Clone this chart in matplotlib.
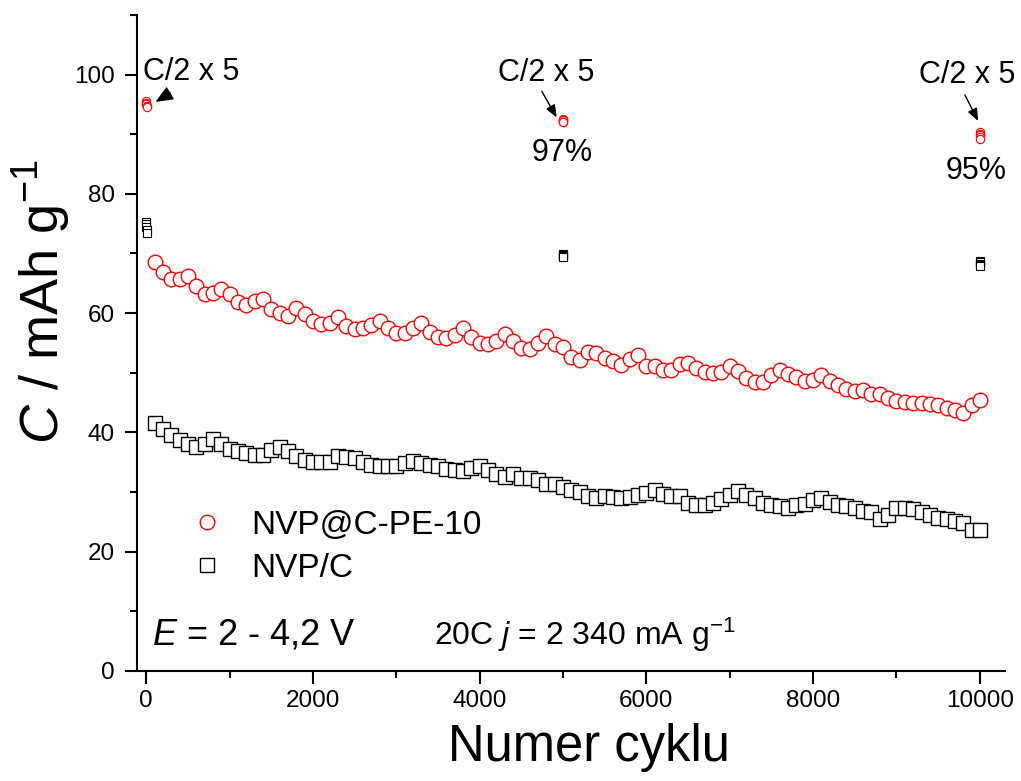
import numpy as np
import matplotlib
matplotlib.use("Agg")
import matplotlib.pyplot as plt
from matplotlib.ticker import MultipleLocator

plt.rcParams['font.family'] = ['Liberation Sans', 'DejaVu Sans']
plt.rcParams['mathtext.fontset'] = 'custom'
plt.rcParams['mathtext.rm'] = 'Liberation Sans'
plt.rcParams['mathtext.it'] = 'Liberation Sans:italic'

# --- data ---
cycles = np.arange(100, 10001, 100)

cap_pe10 = [68.6, 66.9, 65.8, 65.8, 66.3, 64.6, 63.2, 63.3, 64.0, 63.2,
            61.8, 61.4, 62.1, 62.3, 60.7, 60.1, 59.6, 60.8, 59.9, 58.7,
            58.2, 58.3, 59.3, 57.9, 57.3, 57.5, 58.0, 58.6, 57.5, 56.6,
            56.6, 57.5, 58.4, 56.9, 56.0, 55.9, 56.4, 57.5, 56.0, 55.0,
            54.9, 55.4, 56.5, 55.3, 54.2, 54.0, 55.0, 56.1, 54.8, 54.3,
            52.7, 52.1, 53.5, 53.3, 52.4, 51.9, 51.3, 52.3, 53.0, 51.1,
            51.1, 50.5, 50.5, 51.4, 51.7, 50.8, 50.1, 49.9, 50.2, 51.2,
            50.3, 49.2, 48.5, 48.5, 49.7, 50.5, 49.8, 49.3, 48.6, 48.8,
            49.7, 48.7, 47.9, 47.3, 47.0, 47.1, 46.5, 46.4, 45.7, 45.2,
            45.1, 45.0, 44.9, 44.7, 44.6, 44.1, 43.7, 43.3, 44.6, 45.5]

cap_nvpc = [41.6, 40.6, 39.6, 38.8, 38.1, 37.5, 38.1, 38.9, 38.1, 37.2,
            36.8, 36.5, 36.2, 36.2, 37.1, 37.5, 36.8, 36.1, 35.4, 35.1,
            35.1, 35.1, 36.1, 35.9, 35.7, 35.1, 34.6, 34.4, 34.4, 34.4,
            34.9, 35.2, 34.8, 34.6, 34.3, 33.8, 33.7, 33.6, 34.1, 34.3,
            33.7, 33.0, 32.6, 33.0, 32.4, 32.4, 32.0, 31.4, 31.4, 30.9,
            30.4, 30.0, 29.4, 29.0, 29.3, 29.1, 29.0, 29.1, 29.5, 29.9,
            30.4, 29.6, 29.3, 29.3, 28.2, 27.9, 27.9, 28.2, 28.8, 29.5,
            30.1, 29.5, 29.0, 28.2, 27.9, 27.6, 27.4, 27.8, 28.0, 28.6,
            29.0, 28.4, 27.9, 27.7, 27.3, 26.9, 26.7, 25.4, 26.2, 27.3,
            27.4, 27.1, 26.6, 26.2, 25.7, 25.4, 25.2, 24.8, 23.6, 23.7]

# slow C/2 cycles (5 at start, after 5000 and after 10000 cycles)
slow_cycles = [1, 2, 3, 4, 5, 5001, 5002, 5003, 5004, 5005,
               10001, 10002, 10003, 10004, 10005]
slow_pe10 = [95.6, 95.3, 95.0, 94.8, 94.6, 92.6, 92.4, 92.3, 92.1, 92.0,
             90.4, 90.1, 89.8, 89.5, 89.2]
slow_nvpc = [75.3, 75.0, 74.5, 73.9, 73.5, 69.9, 69.7, 69.6, 69.5, 69.4,
             68.7, 68.5, 68.2, 68.0, 67.9]

# --- figure ---
fig = plt.figure(figsize=(10.21, 7.81), dpi=100)
ax = fig.add_axes([0.1342, 0.1409, 0.850, 0.840])

ax.plot(cycles, cap_nvpc, ls='none', marker='s', ms=9.5, mfc='white',
        mec='black', mew=1.0, label='NVP/C')
ax.plot(cycles, cap_pe10, ls='none', marker='o', ms=10.5, mfc='white',
        mec='red', mew=1.0, label='NVP@C-PE-10')
ax.plot(slow_cycles, slow_nvpc, ls='none', marker='s', ms=5.5, mfc='white',
        mec='black', mew=0.8)
ax.plot(slow_cycles, slow_pe10, ls='none', marker='o', ms=6, mfc='white',
        mec='red', mew=0.8)

ax.set_xlim(-110, 10300)
ax.set_ylim(0, 110)
ax.xaxis.set_major_locator(MultipleLocator(2000))
ax.xaxis.set_minor_locator(MultipleLocator(1000))
ax.yaxis.set_major_locator(MultipleLocator(20))
ax.yaxis.set_minor_locator(MultipleLocator(10))

for side in ['top', 'right']:
    ax.spines[side].set_visible(False)
for side in ['left', 'bottom']:
    ax.spines[side].set_linewidth(1.5)

ax.tick_params(which='major', direction='out', length=9, width=1.5,
               labelsize=17.5)
ax.tick_params(which='minor', direction='out', length=5, width=1.5)
ax.tick_params(axis='y', pad=7)
ax.tick_params(axis='x', pad=5)

# axis labels
fig.text(42 / 1021, 1 - 302 / 781, r'$\mathit{C}$ / mAh g$^{-1}$',
         rotation=90, ha='center', va='center', fontsize=39)
fig.text(589 / 1021, 1 - 748 / 781, 'Numer cyklu',
         ha='center', va='center', fontsize=36.5)

# legend
handles, labels = ax.get_legend_handles_labels()
ax.legend(handles[::-1], labels[::-1], loc='upper left',
          bbox_to_anchor=(190 / 1021, 1 - 510 / 781),
          bbox_transform=fig.transFigure, frameon=False, fontsize=24,
          handlelength=1.0, handletextpad=0.85, labelspacing=0.35,
          borderpad=0, borderaxespad=0)

# condition texts
ax.text(72, 6.0, r'$\mathit{E}$ = 2 - 4,2 V', fontsize=26, va='center')
ax.text(3453, 6.0, r'20C $\mathit{j}$ = 2 340 mA g$^{-1}$', fontsize=23,
        va='center')

# C/2 annotations
big_head = dict(arrowstyle='-|>,head_length=0.6,head_width=0.25',
                color='black', lw=1.0, mutation_scale=18,
                shrinkA=0, shrinkB=0)
small_head = dict(arrowstyle='-|>,head_length=0.5,head_width=0.2',
                  color='black', lw=1.0, mutation_scale=15,
                  shrinkA=0, shrinkB=0)

ax.text(-40, 100.5, 'C/2 x 5', fontsize=22, ha='left', va='center')
ax.annotate('', xy=(110, 95.4), xytext=(290, 96.9), arrowprops=big_head)

ax.text(4804, 100.3, 'C/2 x 5', fontsize=22, ha='center', va='center')
ax.annotate('', xy=(4925, 92.8), xytext=(4745, 97.2), arrowprops=small_head)
ax.text(4994, 86.9, '97%', fontsize=22, ha='center', va='center')

ax.text(9850, 100.0, 'C/2 x 5', fontsize=22, ha='center', va='center')
ax.annotate('', xy=(9980, 92.2), xytext=(9820, 96.6), arrowprops=small_head)
ax.text(9960, 83.8, '95%', fontsize=22, ha='center', va='center')

fig.savefig('out.png', dpi=100)
